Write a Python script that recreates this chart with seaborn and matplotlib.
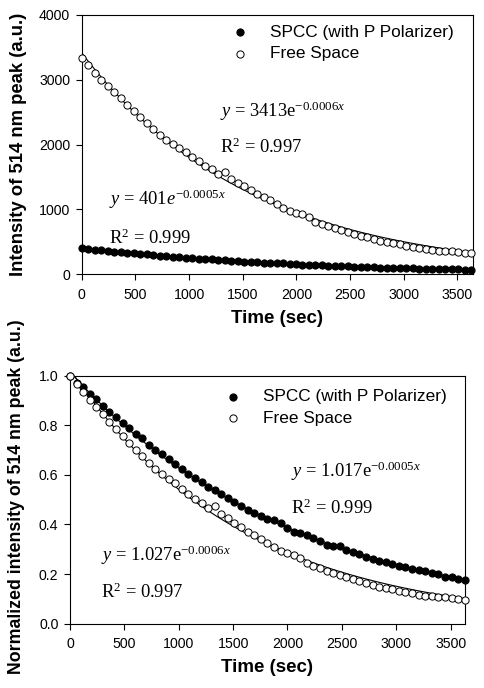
import numpy as np
import pandas as pd
import matplotlib
matplotlib.use("Agg")
import matplotlib.pyplot as plt
import seaborn as sns

# ---- data ----
time_sec = [0, 60, 121, 181, 242, 302, 363, 423, 484, 544, 605, 665, 726, 786, 847,
            907, 968, 1028, 1089, 1149, 1210, 1270, 1331, 1391, 1452, 1512, 1573, 1633,
            1694, 1754, 1815, 1875, 1936, 1996, 2057, 2117, 2178, 2238, 2299, 2359, 2420,
            2480, 2541, 2601, 2662, 2722, 2783, 2843, 2904, 2964, 3025, 3085, 3146, 3206,
            3267, 3327, 3388, 3448, 3509, 3569, 3630]

spcc_norm = [1.000, 0.972, 0.954, 0.924, 0.904, 0.876, 0.853, 0.832, 0.810, 0.787,
             0.765, 0.747, 0.722, 0.702, 0.683, 0.662, 0.642, 0.625, 0.605, 0.587,
             0.570, 0.553, 0.540, 0.522, 0.505, 0.490, 0.475, 0.458, 0.447, 0.433,
             0.424, 0.418, 0.404, 0.385, 0.370, 0.364, 0.356, 0.347, 0.335, 0.318,
             0.314, 0.312, 0.297, 0.287, 0.280, 0.268, 0.260, 0.254, 0.248, 0.241,
             0.233, 0.229, 0.220, 0.216, 0.211, 0.203, 0.200, 0.189, 0.190, 0.181, 0.175]

free_norm = [1.000, 0.968, 0.934, 0.901, 0.874, 0.845, 0.815, 0.784, 0.758, 0.730,
             0.702, 0.675, 0.647, 0.622, 0.602, 0.585, 0.566, 0.543, 0.524, 0.503,
             0.487, 0.465, 0.474, 0.442, 0.425, 0.407, 0.390, 0.371, 0.358, 0.343,
             0.324, 0.308, 0.294, 0.284, 0.277, 0.263, 0.243, 0.233, 0.223, 0.214,
             0.203, 0.195, 0.187, 0.179, 0.171, 0.163, 0.156, 0.149, 0.144, 0.138,
             0.133, 0.128, 0.122, 0.117, 0.113, 0.110, 0.108, 0.106, 0.103, 0.100, 0.097]

spcc_initial = 401     # a.u. at t = 0
free_initial = 3332    # a.u. at t = 0

series_labels = ["SPCC (with P Polarizer)", "Free Space"]
top_eqs = [r"$\mathit{y}$ = 401$\mathit{e}^{-0.0005\mathit{x}}$",
           r"$\mathit{y}$ = 3413e$^{-0.0006\mathit{x}}$"]
bot_eqs = [r"$\mathit{y}$ = 1.017e$^{-0.0005\mathit{x}}$",
           r"$\mathit{y}$ = 1.027e$^{-0.0006\mathit{x}}$"]
r2_texts = [r"R$^{2}$ = 0.999", r"R$^{2}$ = 0.997"]

# ---- style ----
sns.set_style("ticks")
plt.rcParams["font.family"] = ["Liberation Sans", "DejaVu Sans"]
plt.rcParams["mathtext.fontset"] = "custom"
plt.rcParams["mathtext.rm"] = "Liberation Serif"
plt.rcParams["mathtext.it"] = "Liberation Serif:italic"
plt.rcParams["axes.linewidth"] = 0.8
for k in ["text.color", "axes.labelcolor", "xtick.color", "ytick.color", "axes.edgecolor"]:
    plt.rcParams[k] = "black"

t = np.array(time_sec, dtype=float)
spcc_raw = np.array(spcc_norm) * spcc_initial
free_raw = np.array(free_norm) * free_initial

df = pd.DataFrame({"t": t, "spcc_raw": spcc_raw, "free_raw": free_raw,
                   "spcc_norm": spcc_norm, "free_norm": free_norm})


def exp_fit(x, y):
    # least-squares exponential fit (log-linear, weighted to approximate LS in y)
    y = np.asarray(y, dtype=float)
    b, a = np.polyfit(x, np.log(y), 1, w=y)
    return np.exp(a) * np.exp(b * x)


fig = plt.figure(figsize=(4.84, 6.88), dpi=100)
ax1 = fig.add_axes([0.1688, 0.6013, 0.8079, 0.3769])
ax2 = fig.add_axes([0.1446, 0.0935, 0.8161, 0.3605])

MS = 27
for ax, cs, cf in [(ax1, "spcc_raw", "free_raw"), (ax2, "spcc_norm", "free_norm")]:
    df["fit_s"] = exp_fit(t, df[cs].values)
    df["fit_f"] = exp_fit(t, df[cf].values)
    sns.lineplot(data=df, x="t", y="fit_s", ax=ax, color="black", lw=0.8, zorder=2, legend=False)
    sns.lineplot(data=df, x="t", y="fit_f", ax=ax, color="black", lw=0.8, zorder=2, legend=False)
    sns.scatterplot(data=df, x="t", y=cs, ax=ax, color="black", edgecolor="black",
                    s=MS, linewidth=0.7, label=series_labels[0], zorder=3, clip_on=False)
    sns.scatterplot(data=df, x="t", y=cf, ax=ax, color="white", edgecolor="black",
                    s=MS, linewidth=0.7, label=series_labels[1], zorder=3, clip_on=False)
    ax.set_xticks([0, 500, 1000, 1500, 2000, 2500, 3000, 3500])
    ax.tick_params(axis="both", direction="out", length=4, width=0.8, labelsize=10.2, color="black")
    ax.tick_params(axis="x", pad=5.5)
    ax.tick_params(axis="y", pad=4.3)
    for sp in ax.spines.values():
        sp.set_visible(True)
        sp.set_color("black")
    ax.set_xlabel("Time (sec)", fontsize=13.5, fontweight="bold", labelpad=6)

ax1.set_xlim(0, 3643)
ax1.set_ylim(0, 4000)
ax1.set_yticks([0, 1000, 2000, 3000, 4000])
ax1.set_ylabel("Intensity of 514 nm peak (a.u.)", fontsize=13.3, fontweight="bold")
ax1.yaxis.set_label_coords(-0.14, 0.5)

ax2.set_xlim(0, 3632)
ax2.set_ylim(0, 1.0)
ax2.set_yticks([0.0, 0.2, 0.4, 0.6, 0.8, 1.0])
ax2.set_yticklabels(["0.0", "0.2", "0.4", "0.6", "0.8", "1.0"])
ax2.set_ylabel("Normalized intensity of 514 nm peak (a.u.)", fontsize=12.8, fontweight="bold")
ax2.yaxis.set_label_coords(-0.114, 0.512)

leg_kw = dict(frameon=False, fontsize=12.4, handletextpad=1.15, labelspacing=0.36,
              handlelength=1.2, markerscale=1.0, borderpad=0.0, borderaxespad=0.0)
ax1.legend(loc="upper right", bbox_to_anchor=(0.952, 0.962), **leg_kw)
ax2.legend(loc="upper right", bbox_to_anchor=(0.954, 0.945), **leg_kw)

tkw = dict(fontsize=13.3, family=["Liberation Serif", "DejaVu Serif"], ha="left", va="baseline")
ax1.text(1290, 2431, top_eqs[1], **tkw)
ax1.text(1290, 1867, r2_texts[1], **tkw)
ax1.text(250, 1069, top_eqs[0], **tkw)
ax1.text(250, 467, r2_texts[0], **tkw)

ax2.text(2030, 0.593, bot_eqs[0], **tkw)
ax2.text(2030, 0.442, r2_texts[0], **tkw)
ax2.text(285, 0.254, bot_eqs[1], **tkw)
ax2.text(285, 0.102, r2_texts[1], **tkw)

fig.savefig("out.png", dpi=100)
